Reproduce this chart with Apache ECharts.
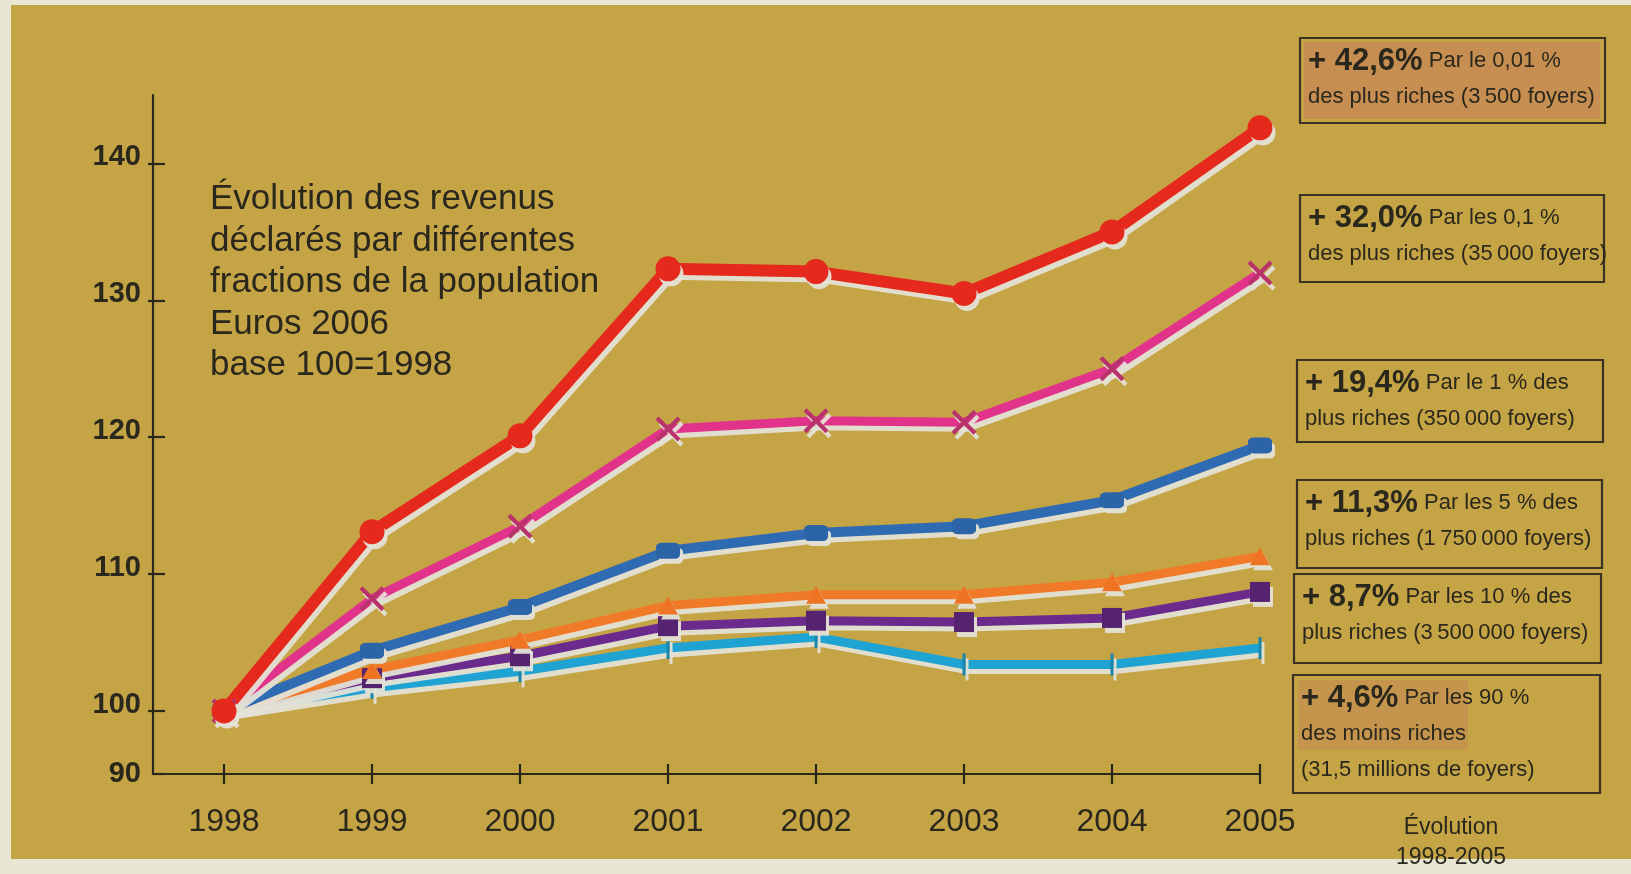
<!DOCTYPE html>
<html><head><meta charset="utf-8">
<script src="https://cdn.jsdelivr.net/npm/echarts@6/dist/echarts.min.js"></script>
<style>
html,body{margin:0;padding:0;width:1631px;height:874px;background:#E9E5D5;overflow:hidden}
#bg{position:absolute;left:11px;top:5px;width:1620px;height:854px;background:#C5A445}
#chart{position:absolute;left:0;top:0;width:1631px;height:874px}
</style></head><body><div id="bg"></div><div id="chart"></div>
<script>
// ---- data ----
const years = [1998, 1999, 2000, 2001, 2002, 2003, 2004, 2005];
const top001 = [100, 113.1, 120.1, 132.3, 132.1, 130.5, 135.0, 142.6];
const top01  = [100, 108.2, 113.5, 120.6, 121.2, 121.1, 125.0, 132.0];
const top1   = [100, 104.4, 107.6, 111.7, 113.0, 113.5, 115.4, 119.4];
const top5   = [100, 103.0, 105.2, 107.7, 108.5, 108.5, 109.4, 111.3];
const top10  = [100, 102.4, 104.0, 106.2, 106.6, 106.5, 106.8, 108.7];
const low90  = [100, 101.7, 102.9, 104.6, 105.4, 103.4, 103.4, 104.6];
const yTickValues = [100, 110, 120, 130, 140];
const yBreakFloor = 95.4;      // compressed (broken) bottom of the axis, labelled 90
const yBreakLabel = '90';
const titleLines = ['Évolution des revenus', 'déclarés par différentes', 'fractions de la population', 'Euros 2006', 'base 100=1998'];
const boxPct = ['+ 42,6%', '+ 32,0%', '+ 19,4%', '+ 11,3%', '+ 8,7%', '+ 4,6%'];
const boxLines = [
  ['Par le 0,01 %', 'des plus riches (3\u2009500 foyers)'],
  ['Par les 0,1 %', 'des plus riches (35\u2009000 foyers)'],
  ['Par le 1 % des', 'plus riches (350\u2009000 foyers)'],
  ['Par les 5 % des', 'plus riches (1\u2009750\u2009000 foyers)'],
  ['Par les 10 % des', 'plus riches (3\u2009500\u2009000 foyers)'],
  ['Par les 90 %', 'des moins riches', '(31,5 millions de foyers)']
];
const footLines = ['Évolution', '1998-2005'];

const ink = '#2a271d';
const fam = '"Liberation Sans", Arial, sans-serif';
const shadow = {shadowColor: 'rgba(228,226,214,0.95)', shadowOffsetX: 3, shadowOffsetY: 5, shadowBlur: 0};
const xPath = 'path://M0,1.2 L1.2,0 L5,3.8 L8.8,0 L10,1.2 L6.2,5 L10,8.8 L8.8,10 L5,6.2 L1.2,10 L0,8.8 L3.8,5Z';

function mk(name, vals, color, mColor, width, symbol, size) {
  return {
    name, type: 'line', xAxisIndex: 0, yAxisIndex: 0,
    data: years.map((y, i) => [y, vals[i]]),
    symbol, symbolSize: size, showSymbol: true,
    lineStyle: Object.assign({color, width}, shadow),
    itemStyle: Object.assign({color: mColor, opacity: 1}, shadow),
    emphasis: {disabled: true}, silent: true
  };
}

const series = [
  mk('90 % moins riches', low90, '#1FA3D3', '#1A86AA', 9, 'rect', [3, 22]),
  mk('10 %', top10, '#6A2B8D', '#55236F', 9, 'rect', [20, 20]),
  mk('5 %', top5, '#F07A28', '#EE7322', 9, 'triangle', [20, 18]),
  mk('1 %', top1, '#2F6BB2', '#2C64A8', 10, 'roundRect', [24, 16]),
  mk('0,1 %', top01, '#E2338B', '#B8336C', 9, xPath, 25),
  mk('0,01 %', top001, '#E5291C', '#E5291C', 12, 'circle', 25)
];

// annotation boxes
const boxes = [
  {x: 1300, y: 38, w: 305, h: 85},
  {x: 1300, y: 195, w: 304, h: 87},
  {x: 1297, y: 360, w: 306, h: 82},
  {x: 1297, y: 480, w: 305, h: 88},
  {x: 1294, y: 574, w: 307, h: 89},
  {x: 1293, y: 675, w: 307, h: 118}
];
const graphics = [];
graphics.push({type: 'rect', shape: {x: 1304, y: 42, width: 296, height: 77}, style: {fill: 'rgba(200,110,100,0.40)'}, silent: true});
graphics.push({type: 'rect', shape: {x: 1298, y: 680, width: 170, height: 70}, style: {fill: 'rgba(200,110,100,0.28)'}, silent: true});
boxes.forEach((b, i) => {
  graphics.push({type: 'rect', shape: {x: b.x, y: b.y, width: b.w, height: b.h},
    style: {fill: 'none', stroke: '#3a3224', lineWidth: 2.2}, silent: true});
  const lines = boxLines[i];
  const txt = '{p|' + boxPct[i] + '} {t|' + lines[0] + '}' + lines.slice(1).map(l => '\n{t|' + l + '}').join('');
  graphics.push({type: 'text', x: b.x + 8, y: b.y + 5, silent: true,
    style: {text: txt, fill: ink, font: '22px ' + fam,
      rich: {
        p: {fontSize: 31, fontWeight: 'bold', fontFamily: fam, fill: ink, lineHeight: 36},
        t: {fontSize: 22, fontFamily: fam, fill: ink, lineHeight: 36}
      }}});
});
graphics.push({type: 'text', x: 210, y: 179, silent: true,
  style: {text: titleLines.join('\n'), fill: ink, font: '35px ' + fam, lineHeight: 41.5}});
graphics.push({type: 'text', x: 1451, y: 813, silent: true,
  style: {text: footLines.join('\n'), fill: ink, font: '23px ' + fam, lineHeight: 30, align: 'center'}});

const axisLineStyle = {color: ink, width: 2.2};
const chart = echarts.init(document.getElementById('chart'), null, {renderer: 'canvas'});
chart.setOption({
  animation: false,
  backgroundColor: 'transparent',
  grid: {left: 153, right: 371, top: 95, bottom: 100, containLabel: false},
  xAxis: [
    {type: 'value', min: 1997.52, max: 2005, position: 'bottom',
      axisLine: {show: true, lineStyle: axisLineStyle},
      axisTick: {show: true, inside: false, length: 10, lineStyle: axisLineStyle, customValues: years},
      axisLabel: {show: true, customValues: years, formatter: v => String(v), margin: 32,
        fontSize: 32, color: ink, fontFamily: fam},
      splitLine: {show: false}},
    {type: 'value', min: 1997.52, max: 2005, position: 'bottom',
      axisLine: {show: false},
      axisTick: {show: true, inside: true, length: 10, lineStyle: axisLineStyle, customValues: years},
      axisLabel: {show: false}, splitLine: {show: false}}
  ],
  yAxis: [
    {type: 'value', min: yBreakFloor, max: 145, position: 'left',
      axisLine: {show: true, lineStyle: axisLineStyle},
      axisTick: {show: true, inside: true, length: 12, lineStyle: axisLineStyle, customValues: [yBreakFloor].concat(yTickValues)},
      axisLabel: {show: true, customValues: [yBreakFloor].concat(yTickValues), margin: 12,
        formatter: v => v < 99 ? '{f|' + yBreakLabel + '}' : '{n|' + v + '}',
        verticalAlign: 'middle',
        rich: {
          f: {fontSize: 29, fontWeight: 'bold', color: ink, fontFamily: fam},
          n: {fontSize: 29, fontWeight: 'bold', color: ink, fontFamily: fam, padding: [0, 0, 13, 0]}
        }},
      splitLine: {show: false}},
    {type: 'value', min: yBreakFloor, max: 145, position: 'left',
      axisLine: {show: false},
      axisTick: {show: true, inside: false, length: 5, lineStyle: axisLineStyle, customValues: yTickValues},
      axisLabel: {show: false}, splitLine: {show: false}}
  ],
  series,
  graphic: graphics
});
</script></body></html>
